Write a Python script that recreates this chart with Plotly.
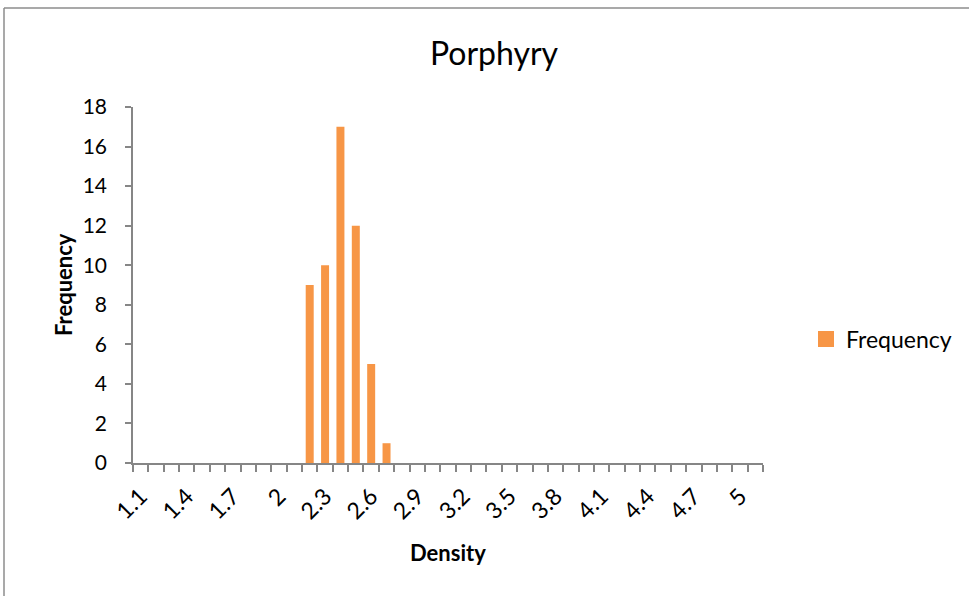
import plotly.graph_objects as go

# Data
density_bins = [round(1.1 + 0.1 * i, 1) for i in range(41)]  # 1.1 .. 5.0 plus "More" bin
bin_frequency = {2.2: 9, 2.3: 10, 2.4: 17, 2.5: 12, 2.6: 5, 2.7: 1}
frequency = [bin_frequency.get(d, 0) for d in density_bins]
tick_labels = ["1.1", "1.4", "1.7", "2", "2.3", "2.6", "2.9", "3.2", "3.5",
               "3.8", "4.1", "4.4", "4.7", "5"]
tick_positions = density_bins[::3][:len(tick_labels)]

ORANGE = "#F79646"
AXIS = "#868686"
FONT = "Lato, 'Liberation Sans', sans-serif"

fig = go.Figure()
fig.add_trace(go.Bar(x=density_bins, y=frequency, name="Frequency",
                     marker=dict(color=ORANGE, line=dict(width=0)),
                     width=0.052, showlegend=False))
# legend entry with a larger square swatch
fig.add_trace(go.Scatter(x=[None], y=[None], mode="markers", name="Frequency",
                         marker=dict(symbol="square", size=16, color=ORANGE),
                         showlegend=True))

W, H = 969, 596
L, R, T, B = 133, 206, 107, 133
pw, ph = W - L - R, H - T - B

def px(x):
    return (x - L) / pw

def py(y):
    return (H - B - y) / ph

fig.update_layout(
    width=W, height=H,
    margin=dict(l=L, r=R, t=T, b=B),
    paper_bgcolor="white", plot_bgcolor="white",
    font=dict(family=FONT, color="black", size=20),
    title=dict(text="Porphyry", x=494 / W, xanchor="center",
               y=1 - 54 / H, yanchor="middle",
               font=dict(size=32, family=FONT, color="black")),
    showlegend=True,
    legend=dict(x=px(806), y=py(339), xanchor="left", yanchor="middle",
                font=dict(size=23, family=FONT), itemwidth=30,
                bgcolor="rgba(0,0,0,0)"),
    xaxis=dict(
        range=[1.05, 5.15], showgrid=False, zeroline=False,
        showline=True, linecolor=AXIS, linewidth=1.5,
        tickmode="array", tickvals=tick_positions, ticktext=tick_labels,
        ticks="", tickangle=-45, tickfont=dict(size=23, family=FONT),
        ticklabelstandoff=9,
        minor=dict(tick0=1.05, dtick=0.1, ticks="outside", ticklen=7,
                   tickwidth=1.5, tickcolor=AXIS, showgrid=False),
    ),
    yaxis=dict(
        range=[0, 18], showgrid=False, zeroline=False,
        showline=True, linecolor=AXIS, linewidth=1.5,
        tickmode="linear", tick0=0, dtick=2,
        ticks="outside", ticklen=6, tickwidth=1.5, tickcolor=AXIS,
        tickfont=dict(size=21, family=FONT), ticklabelstandoff=14,
    ),
    annotations=[
        dict(text="<b>Density</b>", xref="paper", yref="paper",
             x=px(448), y=py(552), xanchor="center", yanchor="middle",
             showarrow=False, font=dict(size=22, family=FONT)),
        dict(text="<b>Frequency</b>", xref="paper", yref="paper",
             x=px(63), y=py(285), xanchor="center", yanchor="middle",
             textangle=-90, showarrow=False, font=dict(size=22, family=FONT)),
    ],
    shapes=[
        dict(type="line", xref="paper", yref="paper",
             x0=px(4), x1=px(4), y0=py(8), y1=-1,
             line=dict(color="#8C8C8C", width=1.5)),
        dict(type="line", xref="paper", yref="paper",
             x0=px(4), x1=2, y0=py(8), y1=py(8),
             line=dict(color="#8C8C8C", width=1.5)),
    ],
)

fig.write_html("out.html", config={"displayModeBar": False},
               post_script="document.body.style.margin='0px';")
